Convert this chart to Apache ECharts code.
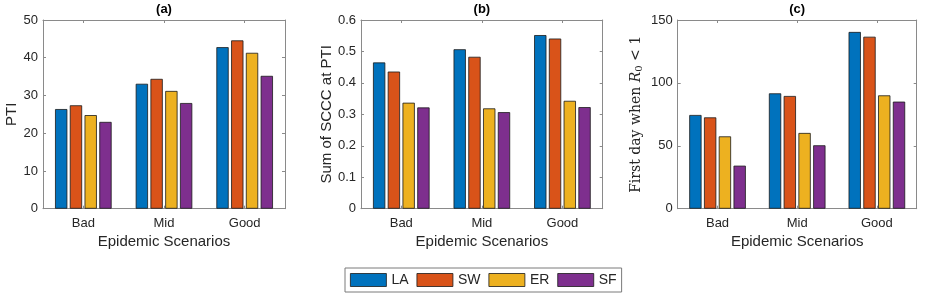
<!DOCTYPE html>
<html>
<head>
<meta charset="utf-8">
<script src="https://cdn.jsdelivr.net/npm/echarts@6/dist/echarts.min.js"></script>
<style>
html,body{margin:0;padding:0;background:#fff;}
#chart{width:926px;height:298px;}
</style>
</head>
<body>
<div id="chart"></div>
<script>
const categories = ['Bad', 'Mid', 'Good'];
const seriesNames = ['LA', 'SW', 'ER', 'SF'];
const colors = ['#0072BD', '#D95319', '#EDB120', '#7E2F8E'];

// Panel (a): PTI
const ptiLA = [26.4, 33.1, 42.8];
const ptiSW = [27.4, 34.4, 44.6];
const ptiER = [24.8, 31.2, 41.3];
const ptiSF = [23.0, 28.0, 35.2];

// Panel (b): Sum of SCCC at PTI
const scccLA = [0.465, 0.507, 0.552];
const scccSW = [0.436, 0.483, 0.541];
const scccER = [0.337, 0.319, 0.343];
const scccSF = [0.322, 0.307, 0.323];

// Panel (c): First day when R0 < 1
const dayLA = [74.5, 91.7, 140.5];
const daySW = [72.6, 89.6, 136.7];
const dayER = [57.5, 60.2, 90.1];
const daySF = [34.2, 50.4, 85.1];

const yTicksA = [0, 50, 10];
const yTicksB = [0, 0.6, 0.1];
const yTicksC = [0, 150, 50];

const panels = [
  {title: '(a)', yName: 'PTI', data: [ptiLA, ptiSW, ptiER, ptiSF], ticks: yTicksA, left: 43, width: 242, nameGap: 24, serif: false},
  {title: '(b)', yName: 'Sum of SCCC at PTI', data: [scccLA, scccSW, scccER, scccSF], ticks: yTicksB, left: 361, width: 241.7, nameGap: 27, serif: false},
  {title: '(c)', yName: '{t|First day when }{i|R}{s|0}{t| < 1}', data: [dayLA, daySW, dayER, daySF], ticks: yTicksC, left: 677.7, width: 239, nameGap: 33, serif: true}
];

const axisGray = '#8a8a8a';
const textCol = '#262626';
const sans = 'Liberation Sans';

const grid = [], xAxis = [], yAxis = [], series = [], title = [];
panels.forEach((p, gi) => {
  grid.push({left: p.left, width: p.width, top: 20, height: 188.7, containLabel: false});
  title.push({text: p.title, left: p.left + p.width / 2, top: 3, padding: 0, textAlign: 'center',
    textStyle: {fontFamily: sans, fontSize: 13, fontWeight: 'bold', color: '#000'}});
  xAxis.push({type: 'category', gridIndex: gi, data: categories, position: 'bottom',
    axisLine: {lineStyle: {color: axisGray, width: 1}},
    axisTick: {show: true, inside: true, length: 3, alignWithLabel: true, lineStyle: {color: axisGray}},
    axisLabel: {color: textCol, fontFamily: sans, fontSize: 13, margin: 8},
    name: 'Epidemic Scenarios', nameLocation: 'middle', nameGap: 26,
    nameTextStyle: {color: textCol, fontFamily: sans, fontSize: 15}});
  xAxis.push({type: 'category', gridIndex: gi, data: categories, position: 'top',
    axisLine: {show: true, onZero: false, lineStyle: {color: axisGray, width: 1}},
    axisTick: {show: true, inside: true, length: 3, alignWithLabel: true, lineStyle: {color: axisGray}},
    axisLabel: {show: false}});
  const nameStyle = p.serif ? {
    color: textCol, fontFamily: 'DejaVu Serif', fontSize: 14,
    rich: {
      t: {fontFamily: 'DejaVu Serif', fontSize: 14, color: textCol},
      i: {fontFamily: 'DejaVu Serif', fontStyle: 'italic', fontSize: 14, color: textCol},
      s: {fontFamily: 'DejaVu Serif', fontSize: 10, color: textCol, verticalAlign: 'bottom', padding: [6, 0, 0, 0]}
    }
  } : {color: textCol, fontFamily: sans, fontSize: 15};
  yAxis.push({type: 'value', gridIndex: gi, min: p.ticks[0], max: p.ticks[1], interval: p.ticks[2], position: 'left',
    splitLine: {show: false},
    axisLine: {show: true, lineStyle: {color: axisGray, width: 1}},
    axisTick: {show: true, inside: true, length: 3, lineStyle: {color: axisGray}},
    axisLabel: {color: textCol, fontFamily: sans, fontSize: 13, margin: 5},
    name: p.yName, nameLocation: 'middle', nameGap: p.nameGap, nameRotate: 90,
    nameTextStyle: nameStyle});
  yAxis.push({type: 'value', gridIndex: gi, min: p.ticks[0], max: p.ticks[1], interval: p.ticks[2], position: 'right',
    splitLine: {show: false},
    axisLine: {show: true, lineStyle: {color: axisGray, width: 1}},
    axisTick: {show: true, inside: true, length: 3, lineStyle: {color: axisGray}},
    axisLabel: {show: false}});
  p.data.forEach((vals, si) => {
    series.push({type: 'bar', name: seriesNames[si], xAxisIndex: gi * 2, yAxisIndex: gi * 2,
      data: vals, barWidth: 12.3, barGap: '20%',
      itemStyle: {color: colors[si], borderColor: '#1a1a1a', borderWidth: 0.8},
      emphasis: {disabled: true}});
  });
});

const chart = echarts.init(document.getElementById('chart'), null, {renderer: 'canvas'});
chart.setOption({
  animation: false,
  backgroundColor: '#fff',
  title: title,
  grid: grid,
  xAxis: xAxis,
  yAxis: yAxis,
  series: series,
  legend: {
    data: seriesNames.map(n => ({name: n, icon: 'rect'})), left: 345, top: 268, orient: 'horizontal',
    itemWidth: 36, itemHeight: 13, itemGap: 8,
    padding: [5, 5, 5, 5],
    borderColor: '#7a7a7a', borderWidth: 1, backgroundColor: '#fff',
    textStyle: {color: textCol, fontFamily: sans, fontSize: 14},
    itemStyle: {borderColor: '#1a1a1a', borderWidth: 0.8},
    selectedMode: false
  }
});
</script>
</body>
</html>
